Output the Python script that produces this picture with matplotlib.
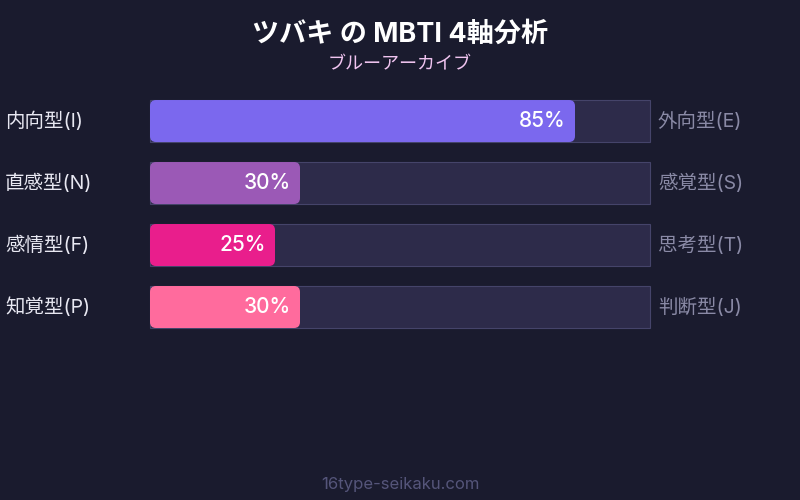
import matplotlib.pyplot as plt
from matplotlib.patches import FancyBboxPatch

plt.rcParams['font.family'] = ['Inter', 'Noto Sans CJK JP', 'DejaVu Sans']

title = 'ツバキ の MBTI 4軸分析'
subtitle = 'ブルーアーカイブ'
left_labels = ['内向型(I)', '直感型(N)', '感情型(F)', '知覚型(P)']
right_labels = ['外向型(E)', '感覚型(S)', '思考型(T)', '判断型(J)']
values = [85, 30, 25, 30]
colors = ['#7b68ee', '#9b59b6', '#e91e8c', '#ff6b9d']

bg = '#1a1b2e'

fig = plt.figure(figsize=(8, 5), dpi=100)
fig.patch.set_facecolor(bg)
# whole-figure axes: x 0..100 maps to 150..650 px, rows 62 px apart
ax = fig.add_axes([0, 0, 1, 1])
ax.set_facecolor(bg)
ax.set_xlim(-30, 130)
ax.set_ylim(6.113, -1.952)
ax.axis('off')

h = 42 / 62
for i, (lab_l, lab_r, v, c) in enumerate(zip(left_labels, right_labels, values, colors)):
    ax.barh(i, 100, left=0, height=h, color='#2d2b4a', edgecolor='#45446a', linewidth=0.8)
    box = FancyBboxPatch((0, i - h / 2), v, h,
                         boxstyle='round,pad=0,rounding_size=1.2',
                         mutation_aspect=5 / 62, facecolor=c, edgecolor='none')
    ax.add_patch(box)
    ax.text(v - 1.8, i, f'{v}%', ha='right', va='center', color='white',
            fontsize=15, fontweight='medium')
    ax.text(-29, i, lab_l, ha='left', va='center', color='#e8e8f2', fontsize=14)
    ax.text(101.6, i, lab_r, ha='left', va='center', color='#8a8aa6', fontsize=14)

fig.text(0.5, 1 - 35 / 500, title, ha='center', va='center', color='white',
         fontsize=19.5, fontweight='bold')
fig.text(0.5, 1 - 65 / 500, subtitle, ha='center', va='center', color='#f0c4f0',
         fontsize=13)
fig.text(0.5, 1 - 484 / 500, '16type-seikaku.com', ha='center', va='center',
         color='#55557a', fontsize=12)

fig.savefig('out.png', dpi=100, facecolor=bg)
